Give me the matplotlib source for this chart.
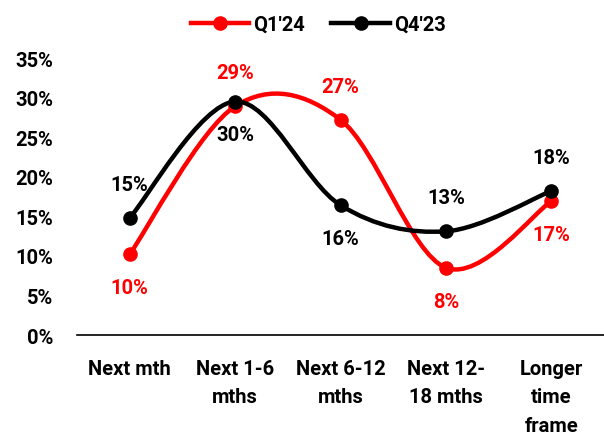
import matplotlib
matplotlib.use('Agg')
import matplotlib.pyplot as plt
from matplotlib.path import Path
from matplotlib.patches import PathPatch
from matplotlib.lines import Line2D
import numpy as np

categories = ["Next mth", "Next 1-6\nmths", "Next 6-12\nmths", "Next 12-\n18 mths", "Longer\ntime\nframe"]
q1_24 = [10.2, 28.9, 27.2, 8.5, 16.9]
q4_23 = [14.8, 29.5, 16.4, 13.1, 18.2]
q1_24_labels = ["10%", "29%", "27%", "8%", "17%"]
q4_23_labels = ["15%", "30%", "16%", "13%", "18%"]
# label above (+1) or below (-1) the point
q1_24_pos = [-1, 1, 1, -1, -1]
q4_23_pos = [1, -1, -1, 1, 1]

RED = '#ff0000'
BLACK = '#000000'
FS = 14.5

plt.rcParams['font.family'] = ['Roboto', 'DejaVu Sans']
plt.rcParams['font.weight'] = 'bold'


def smooth_path(xs, ys):
    # Excel-style smoothed line as cubic Bezier segments
    pts = np.column_stack([xs, ys]).astype(float)
    n = len(pts)
    verts = [pts[0]]
    codes = [Path.MOVETO]
    for i in range(n - 1):
        p0 = pts[i - 1] if i > 0 else pts[i]
        p1 = pts[i]
        p2 = pts[i + 1]
        p3 = pts[i + 2] if i + 2 < n else pts[i + 1]
        c1 = p1 + (p2 - p0) / 6.0
        c2 = p2 - (p3 - p1) / 6.0
        verts += [c1, c2, p2]
        codes += [Path.CURVE4] * 3
    return Path(verts, codes)


fig = plt.figure(figsize=(6.04, 4.39), dpi=100)
ax = fig.add_axes([0.1275, 0.2346, 0.8725, 0.631])

x = np.arange(len(categories))
for vals, color in [(q1_24, RED), (q4_23, BLACK)]:
    ax.add_patch(PathPatch(smooth_path(x, vals), facecolor='none',
                           edgecolor=color, linewidth=3.2, zorder=3))
    ax.plot(x, vals, linestyle='none', marker='o', markersize=9.5,
            color=color, zorder=4)

for vals, labels, pos, color in [(q1_24, q1_24_labels, q1_24_pos, RED),
                                 (q4_23, q4_23_labels, q4_23_pos, BLACK)]:
    for xi, v, lab, p in zip(x, vals, labels, pos):
        ax.annotate(lab, (xi, v), xytext=(0, 24 * p), textcoords='offset points',
                    ha='center', va='center', color=color, fontsize=FS,
                    fontweight='bold')

ax.set_xlim(-0.5, len(categories) - 0.5)
ax.set_ylim(0, 35)
ax.set_yticks(np.arange(0, 36, 5))
ax.set_yticklabels([f"{v}%" for v in range(0, 36, 5)])
ax.set_xticks(x)
ax.set_xticklabels(categories, linespacing=1.65)
ax.tick_params(axis='both', length=0, labelsize=FS, colors='black')
ax.tick_params(axis='y', pad=17)
ax.tick_params(axis='x', pad=17)
for lab in ax.get_xticklabels() + ax.get_yticklabels():
    lab.set_fontweight('bold')
for s in ['top', 'right', 'left']:
    ax.spines[s].set_visible(False)
ax.spines['bottom'].set_linewidth(1.2)
ax.set_facecolor('none')

handles = [Line2D([], [], color=RED, linewidth=3.2, marker='o', markersize=9.5),
           Line2D([], [], color=BLACK, linewidth=3.2, marker='o', markersize=9.5)]
fig.legend(handles, ["Q1'24", "Q4'23"], loc='upper center', ncol=2,
           bbox_to_anchor=(0.527, 1.005), frameon=False,
           handlelength=2.9, columnspacing=1.3, handletextpad=0.2,
           prop={'weight': 'bold', 'size': FS})

fig.savefig('out.png', dpi=100)
